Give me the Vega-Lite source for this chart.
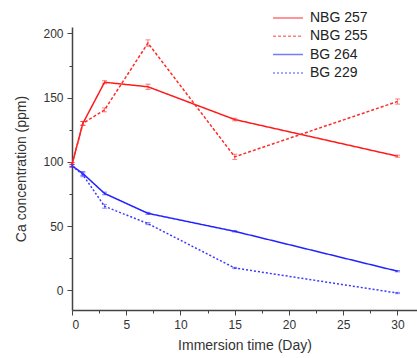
{
  "$schema": "https://vega.github.io/schema/vega-lite/v6.json",
  "autosize": {"type": "none"},
  "width": 345,
  "height": 283,
  "padding": {"left": 72, "top": 27, "right": 0, "bottom": 48},
  "background": "white",
  "config": {
    "view": {"stroke": null},
    "font": "Liberation Sans",
    "axis": {
      "domainColor": "#444",
      "domainWidth": 1.5,
      "tickColor": "#444",
      "tickWidth": 1,
      "labelColor": "#333",
      "titleColor": "#333",
      "labelFontSize": 12,
      "titleFontSize": 14,
      "titleFontWeight": "normal",
      "grid": false
    }
  },
  "data": {
    "values": [
      {"series": "NBG 257", "day": 0, "ca": 98, "err": 1.5},
      {"series": "NBG 257", "day": 1, "ca": 130, "err": 1.5},
      {"series": "NBG 257", "day": 3, "ca": 162, "err": 1.2},
      {"series": "NBG 257", "day": 7, "ca": 158.5, "err": 2},
      {"series": "NBG 257", "day": 15, "ca": 133, "err": 1},
      {"series": "NBG 257", "day": 30, "ca": 104.5, "err": 0.8},
      {"series": "NBG 255", "day": 0, "ca": 98, "err": 1.5},
      {"series": "NBG 255", "day": 1, "ca": 130, "err": 1.5},
      {"series": "NBG 255", "day": 3, "ca": 140.5, "err": 1.5},
      {"series": "NBG 255", "day": 7, "ca": 192.5, "err": 2.5},
      {"series": "NBG 255", "day": 15, "ca": 104, "err": 2},
      {"series": "NBG 255", "day": 30, "ca": 147, "err": 2},
      {"series": "BG 264", "day": 0, "ca": 97, "err": 1},
      {"series": "BG 264", "day": 1, "ca": 91, "err": 1.5},
      {"series": "BG 264", "day": 3, "ca": 75.5, "err": 1},
      {"series": "BG 264", "day": 7, "ca": 60, "err": 0.8},
      {"series": "BG 264", "day": 15, "ca": 46, "err": 0.5},
      {"series": "BG 264", "day": 30, "ca": 15, "err": 0.5},
      {"series": "BG 229", "day": 0, "ca": 97, "err": 1},
      {"series": "BG 229", "day": 1, "ca": 90, "err": 1.5},
      {"series": "BG 229", "day": 3, "ca": 65.5, "err": 1.5},
      {"series": "BG 229", "day": 7, "ca": 52, "err": 0.8},
      {"series": "BG 229", "day": 15, "ca": 17.5, "err": 0.5},
      {"series": "BG 229", "day": 30, "ca": -2, "err": 0.5}
    ]
  },
  "encoding": {
    "x": {
      "field": "day",
      "type": "quantitative",
      "scale": {"domain": [0, 31.8], "nice": false, "zero": false},
      "axis": {
        "title": "Immersion time (Day)",
        "values": [0, 2.5, 5, 7.5, 10, 12.5, 15, 17.5, 20, 22.5, 25, 27.5, 30],
        "labelExpr": "datum.value % 5 === 0 ? datum.label : ''",
        "tickSize": {"condition": {"test": "datum.value % 5 === 0", "value": 5}, "value": 3},
        "labelPadding": 4,
        "titlePadding": 8
      }
    },
    "y": {
      "field": "ca",
      "type": "quantitative",
      "scale": {"domain": [-15.2, 205], "nice": false, "zero": false},
      "axis": {
        "title": "Ca concentration (ppm)",
        "values": [0, 25, 50, 75, 100, 125, 150, 175, 200],
        "labelExpr": "datum.value % 50 === 0 ? datum.label : ''",
        "tickSize": {"condition": {"test": "datum.value % 50 === 0", "value": 5}, "value": 3},
        "labelPadding": 4,
        "titlePadding": 14
      }
    },
    "color": {
      "field": "series",
      "type": "nominal",
      "scale": {
        "domain": ["NBG 257", "NBG 255", "BG 264", "BG 229"],
        "range": ["#ff1a1a", "#ff2a2a", "#2222ff", "#3a3aff"]
      },
      "legend": {
        "title": null,
        "orient": "none",
        "legendX": 200,
        "legendY": -16,
        "symbolType": "stroke",
        "symbolSize": 900,
        "symbolStrokeWidth": 1.5,
        "labelFontSize": 14,
        "labelColor": "#222",
        "labelOffset": 6,
        "clipHeight": 14,
        "rowPadding": 4.3
      }
    },
    "strokeDash": {
      "field": "series",
      "type": "nominal",
      "scale": {
        "domain": ["NBG 257", "NBG 255", "BG 264", "BG 229"],
        "range": [[1, 0], [3, 2], [1, 0], [2, 2]]
      },
      "legend": {
        "title": null,
        "orient": "none",
        "legendX": 200,
        "legendY": -16,
        "symbolType": "stroke",
        "symbolSize": 900,
        "symbolStrokeWidth": 1.5,
        "labelFontSize": 14,
        "labelColor": "#222",
        "labelOffset": 6,
        "clipHeight": 14,
        "rowPadding": 4.3
      }
    }
  },
  "layer": [
    {
      "mark": {"type": "line", "strokeWidth": 1.5}
    },
    {
      "mark": {"type": "errorbar", "ticks": {"size": 5}, "thickness": 1, "opacity": 0.6},
      "encoding": {
        "yError": {"field": "err"},
        "strokeDash": {"value": [1, 0]}
      }
    }
  ]
}
